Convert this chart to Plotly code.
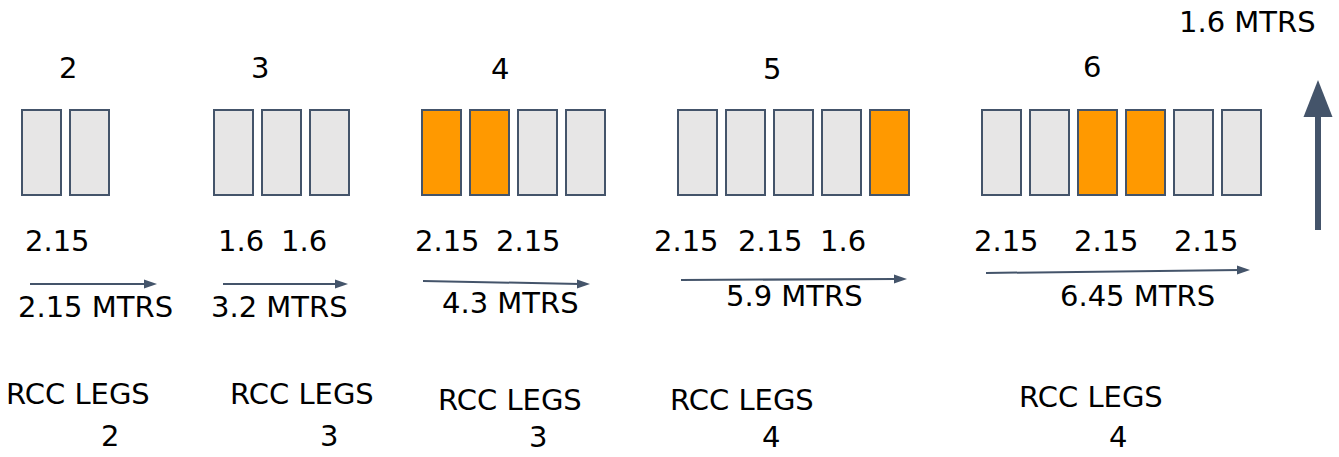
import plotly.graph_objects as go

# ---- data ----
group_labels = ["2", "3", "4", "5", "6"]            # number of panels per group
legs_per_group = [2, 3, 4, 5, 6]
orange_panels = [[], [], [0, 1], [4], [2, 3]]        # highlighted panel indices
panel_dims = [["2.15"], ["1.6", "1.6"], ["2.15", "2.15"],
              ["2.15", "2.15", "1.6"], ["2.15", "2.15", "2.15"]]
span_labels = ["2.15 MTRS", "3.2 MTRS", "4.3 MTRS", "5.9 MTRS", "6.45 MTRS"]
rcc_legs = [2, 3, 3, 4, 4]
height_label = "1.6 MTRS"

# ---- layout (pixel canvas positions) ----
W, H = 1339, 457
group_x0 = [22, 214, 422, 678, 982]
panel_w, panel_step = 39, 48
panel_top, panel_bot = 110, 195
label_pos = [(68, 68), (260, 68), (500, 69), (772, 69), (1092, 67)]
dim_x = [[57], [241, 304], [447, 528], [686, 770, 843], [1006, 1106, 1206]]
dim_y = 241
arrows = [((30, 284), (157, 284)), ((223, 284), (348, 284)), ((423, 281), (590, 284)),
          ((681, 280), (907, 279)), ((986, 273), (1250, 270))]
span_pos = [(95, 307), (279, 307), (510, 303), (794, 296), (1137, 296)]
rcc_pos = [(78, 394), (302, 394), (510, 400), (742, 400), (1091, 397)]
rcc_num_pos = [(110, 436), (329, 436), (538, 437), (771, 437), (1118, 437)]

GRAY = "#E7E6E6"
ORANGE = "#FF9900"
EDGE = "#44546A"
FONT = dict(family="DejaVu Sans", size=29, color="#000000")

fig = go.Figure()
shapes = []
annotations = []

for g, n in enumerate(legs_per_group):
    for i in range(n):
        x0 = group_x0[g] + i * panel_step
        shapes.append(dict(type="rect", xref="x", yref="y",
                           x0=x0, x1=x0 + panel_w, y0=panel_top, y1=panel_bot,
                           fillcolor=ORANGE if i in orange_panels[g] else GRAY,
                           line=dict(color=EDGE, width=2), layer="above"))
    lx, ly = label_pos[g]
    annotations.append(dict(x=lx, y=ly, text=group_labels[g], showarrow=False,
                            xanchor="center", yanchor="middle", font=FONT))
    for t, dx in zip(panel_dims[g], dim_x[g]):
        annotations.append(dict(x=dx, y=dim_y, text=t, showarrow=False,
                                xanchor="center", yanchor="middle", font=FONT))
    (ax0, ay0), (ax1, ay1) = arrows[g]
    # shaft
    shapes.append(dict(type="line", xref="x", yref="y", x0=ax0, y0=ay0, x1=ax1 - 10, y1=ay1,
                       line=dict(color=EDGE, width=2)))
    # head
    shapes.append(dict(type="path", xref="x", yref="y",
                       path=f"M {ax1} {ay1} L {ax1-13} {ay1-4.5} L {ax1-13} {ay1+4.5} Z",
                       fillcolor=EDGE, line=dict(color=EDGE, width=0)))
    sx, sy = span_pos[g]
    annotations.append(dict(x=sx, y=sy, text=span_labels[g], showarrow=False,
                            xanchor="center", yanchor="middle", font=FONT))
    rx, ry = rcc_pos[g]
    annotations.append(dict(x=rx, y=ry, text="RCC LEGS", showarrow=False,
                            xanchor="center", yanchor="middle", font=FONT))
    nx, ny = rcc_num_pos[g]
    annotations.append(dict(x=nx, y=ny, text=str(rcc_legs[g]), showarrow=False,
                            xanchor="center", yanchor="middle", font=FONT))

# vertical height arrow
shapes.append(dict(type="line", xref="x", yref="y", x0=1318, y0=230, x1=1318, y1=112,
                   line=dict(color=EDGE, width=6)))
shapes.append(dict(type="path", xref="x", yref="y",
                   path="M 1318 80 L 1303.5 117 L 1332.5 117 Z",
                   fillcolor=EDGE, line=dict(color=EDGE, width=0)))
annotations.append(dict(x=1247, y=22, text=height_label, showarrow=False,
                        xanchor="center", yanchor="middle", font=FONT))

fig.update_layout(
    width=W, height=H,
    margin=dict(l=0, r=0, t=0, b=0),
    paper_bgcolor="white", plot_bgcolor="white",
    showlegend=False,
    xaxis=dict(range=[0, W], visible=False, fixedrange=True),
    yaxis=dict(range=[H, 0], visible=False, fixedrange=True),
    shapes=shapes, annotations=annotations,
)

fig.write_html("out.html", config={"displayModeBar": False},
               post_script="document.body.style.margin='0';document.body.style.overflow='hidden';")
